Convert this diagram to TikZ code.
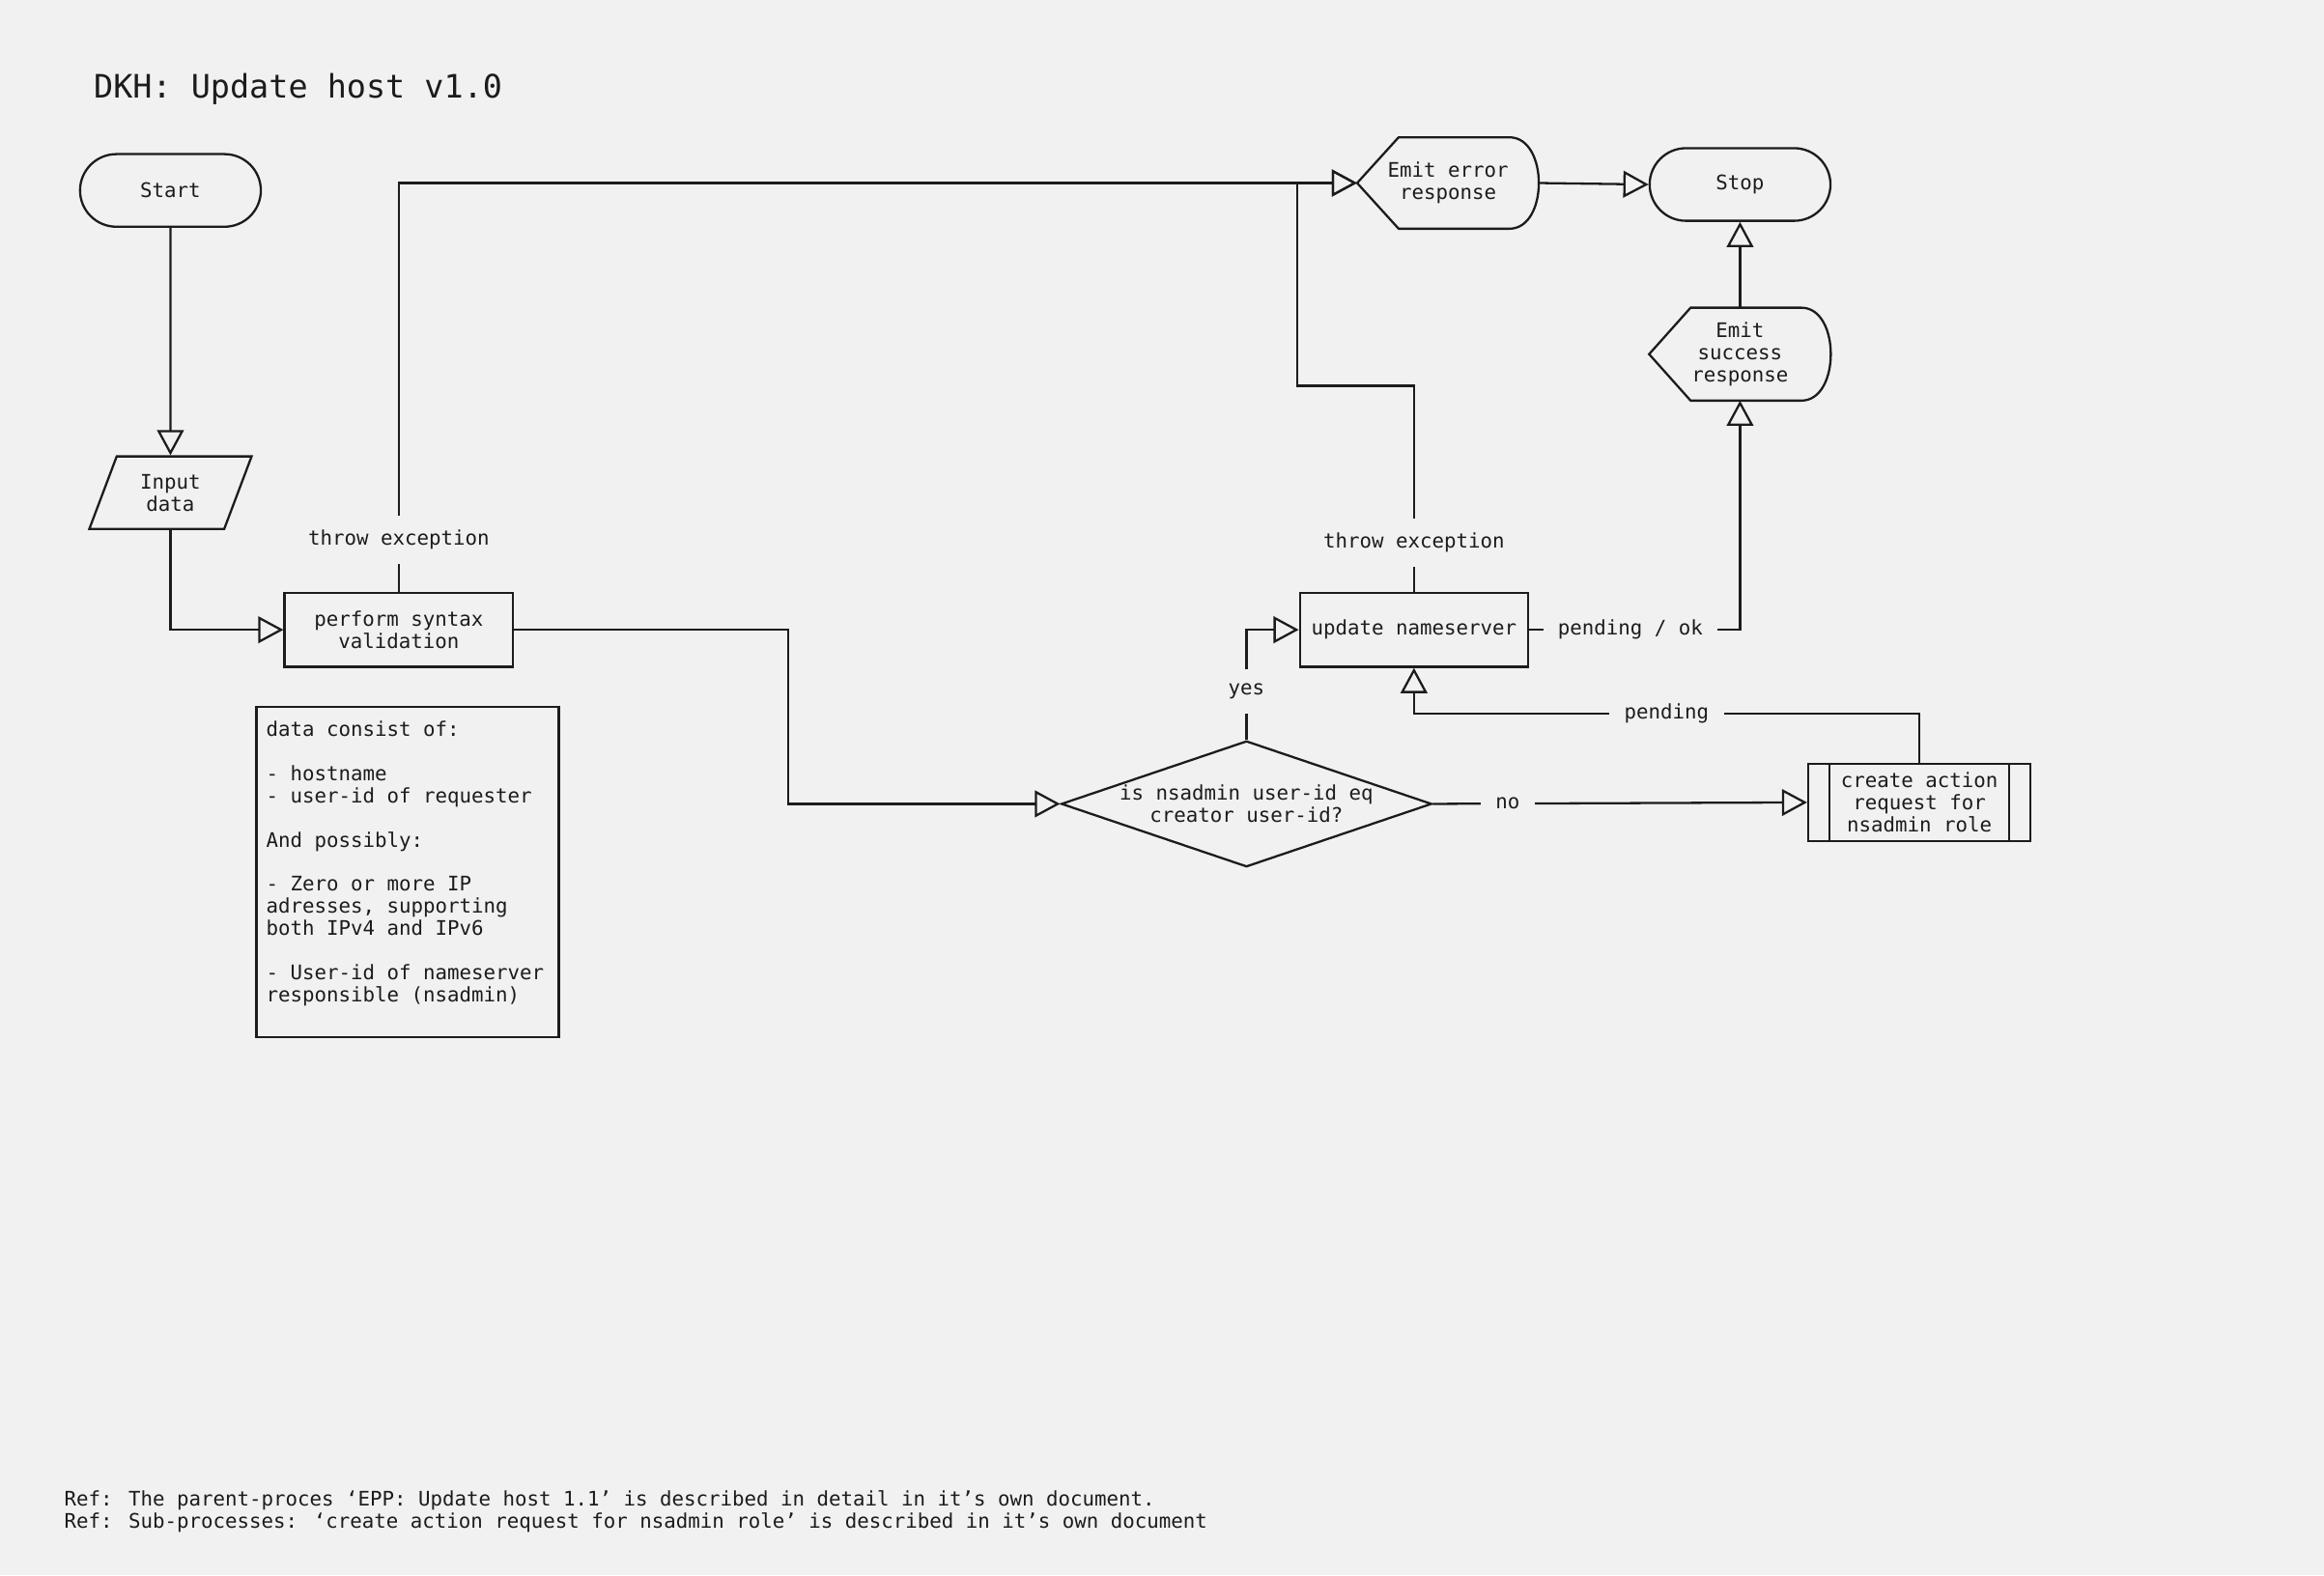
\documentclass[tikz,border=0pt]{standalone}
\usepackage{fontspec}
\usetikzlibrary{arrows.meta,shapes.geometric}
\newfontfamily\monofont{DejaVu Sans Mono}
\definecolor{bg}{HTML}{F1F1F1}
\definecolor{ink}{HTML}{1C1C1C}
\tikzset{
  base/.style={draw=ink, line width=0.85pt},
  flow/.style={base, -{Triangle[open, length=3.4mm, width=3.6mm]}},
  txt/.style={text=ink, font=\monofont\fontsize{7.7}{8.5}\selectfont, align=center},
  term/.style={txt, base, rectangle, rounded corners=4.9mm, minimum width=24.4mm, minimum height=9.8mm},
  io/.style={txt, base, trapezium, trapezium left angle=70, trapezium right angle=110, trapezium stretches=true, minimum width=22mm, minimum height=9.8mm},
  proc/.style={txt, base, rectangle, minimum width=30.8mm, minimum height=10mm},
  disp/.style={txt, rectangle, minimum width=24.4mm, minimum height=12.2mm},
  decide/.style={txt, base, diamond, aspect=2.94, inner sep=0pt, minimum width=50mm, minimum height=17mm},
  sub/.style={txt, base, rectangle, minimum width=30mm, minimum height=9.8mm},
  notebox/.style={base, rectangle, minimum width=40.8mm, minimum height=44.6mm},
  lab/.style={txt, fill=bg, inner xsep=2mm, inner ysep=2mm},
}
\begin{document}
\begin{tikzpicture}[x=0.2mm, y=-0.2mm]
  \fill[bg] (0,0) rectangle (1568,1063);
  \node[txt, anchor=west, inner sep=0pt, font=\monofont\fontsize{12.4}{14}\selectfont] (title) at (63,60) {DKH: Update host v1.0};

  \node[term] (start) at (115,128.5) {Start};
  \node[io] (input) at (115,332.5) {Input\\data};
  \node[proc] (check) at (269,425) {perform syntax\\validation};
  \node[disp] (err) at (977,123.5) {Emit error\\response};
  \node[term] (stop) at (1174,124.5) {Stop};
  \node[disp, minimum height=12.4mm] (ok) at (1174,239) {Emit\\success\\response};
  \node[proc] (upd) at (954,425) {update nameserver};
  \node[decide] (dec) at (841,542.5) {is nsadmin user-id eq\\creator user-id?};
  \node[sub] (act) at (1295,541.5) {create action\\request for\\nsadmin role};
  \node[notebox] (note) at (275,588.5) {};
  \node[txt, align=left, anchor=north west, inner xsep=1.4mm, inner ysep=2mm] (notetext) at (note.north west)
    {data consist of:\\[8.5pt]- hostname\\- user-id of requester\\[8.5pt]And possibly:\\[8.5pt]- Zero or more IP\\adresses, supporting\\both IPv4 and IPv6\\[8.5pt]- User-id of nameserver\\responsible (nsadmin)};

  \foreach \n in {err,ok}
    \draw[base] (\n.west) -- ([xshift=5.6mm]\n.north west) -- ([xshift=-4mm]\n.north east)
      .. controls +(5.3mm,0mm) and +(5.3mm,0mm) .. ([xshift=-4mm]\n.south east)
      -- ([xshift=5.6mm]\n.south west) -- cycle;
  \draw[base] ([xshift=3mm]act.north west) -- ([xshift=3mm]act.south west)
    ([xshift=-3mm]act.north east) -- ([xshift=-3mm]act.south east);

  \draw[flow] (start) -- (input);
  \draw[flow] (input.south) |- (check.west);
  \draw[flow] (check.north) -- ++(0,-35) node[lab] {throw exception} |- (err.west);
  \draw[flow] (upd.north) -- ++(0,-33) node[lab] {throw exception} -- ++(0,-106) -- ++(-79,0) |- (err.west);
  \draw[flow] (err.east) -- (stop.west);
  \draw[flow] (ok) -- (stop);
  \draw[flow] (check.east) -- ++(185,0) |- (dec.west);
  \draw[flow] (dec.north) |- node[lab, pos=0.22] {yes} (upd.west);
  \draw[flow] (dec.east) -- node[lab, pos=0.2] {no} (act.west);
  \draw[flow] (act.north) -- ++(0,-33) -| node[lab, pos=0.25] {pending} (upd.south);
  \draw[flow] (upd.east) -| node[lab, pos=0.24] {pending / ok} (ok.south);

  \node[txt, align=left, anchor=west, inner sep=0pt] (ref) at (43,1020)
    {Ref: The parent-proces ‘EPP: Update host 1.1’ is described in detail in it’s own document.\\Ref: Sub-processes: ‘create action request for nsadmin role’ is described in it’s own document};
\end{tikzpicture}
\end{document}
